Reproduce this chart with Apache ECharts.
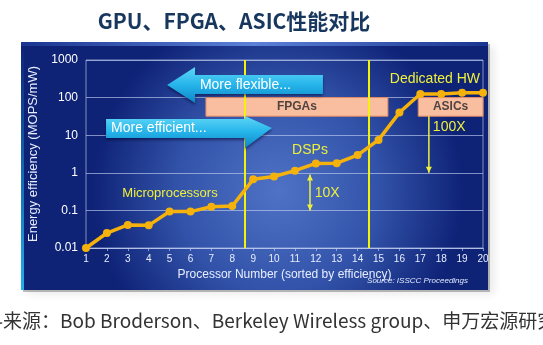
<!DOCTYPE html>
<html><head><meta charset="utf-8">
<script src="https://cdn.jsdelivr.net/npm/echarts@6/dist/echarts.min.js"></script>
<style>html,body{margin:0;padding:0;background:#fff}#c{width:543px;height:345px}</style>
</head><body><div id="c"></div>
<script>
// ---- data ----
const processorNumbers = [1,2,3,4,5,6,7,8,9,10,11,12,13,14,15,16,17,18,19,20];
const efficiency = [0.01,0.025,0.041,0.04,0.093,0.093,0.125,0.13,0.67,0.8,1.14,1.78,1.8,2.96,7.5,40,125,125,135,135];
const yTicks = [0.01,0.1,1,10,100,1000];
const dividers = [8.6, 14.55];
const fpgaBox = [[6.74, 32], [15.45, 100]];
const asicBox = [[16.9, 32], [20.2, 100]];

const chart = echarts.init(document.getElementById('c'), null, {renderer:'canvas'});
const F = '"Liberation Sans", Arial, sans-serif';
const CJK = '"Noto Sans CJK SC", sans-serif';
const gridColor = 'rgba(190,205,240,0.65)';

chart.setOption({
  animation:false,
  title:{text:'GPU、FPGA、ASIC性能对比', left:229, top:6, textAlign:'center',
    textStyle:{fontFamily:CJK, fontWeight:'bold', fontSize:21, color:'#17375E'}},
  grid:{left:86, right:60, top:60, bottom:97, show:true, borderColor:gridColor, borderWidth:1, backgroundColor:'transparent'},
  xAxis:{type:'value', min:1, max:20, interval:1,
    name:'Processor Number (sorted by efficiency)', nameLocation:'middle', nameGap:20,
    nameTextStyle:{color:'#e8eeff', fontSize:12, fontFamily:F},
    axisLine:{lineStyle:{color:gridColor}},
    axisTick:{show:true, inside:false, length:3, lineStyle:{color:gridColor}},
    axisLabel:{color:'#e8eeff', fontSize:10, fontFamily:F, margin:6},
    splitLine:{show:false}},
  yAxis:{type:'log', logBase:10, min:0.01, max:1000,
    name:'Energy efficiency (MOPS/mW)', nameLocation:'middle', nameGap:46,
    nameTextStyle:{color:'#e8eeff', fontSize:13, fontFamily:F},
    axisLine:{show:false}, axisTick:{show:false},
    axisLabel:{color:'#ffffff', fontSize:12, fontFamily:F, margin:8,
      formatter:v=>{const t=yTicks.find(k=>Math.abs(k-v)/k<1e-6);return t===undefined?'':String(t);}},
    splitLine:{lineStyle:{color:gridColor, width:1}}},
  series:[{
    type:'line', data:processorNumbers.map((x,i)=>[x,efficiency[i]]),
    symbol:'circle', symbolSize:8, clip:false,
    lineStyle:{color:'#F5B20C', width:3.5}, itemStyle:{color:'#F5B20C'},
    z:5,
    markLine:{silent:true, symbol:'none', label:{show:false},
      lineStyle:{color:'#F2F20A', width:2, type:'solid'},
      data:dividers.map(d=>({xAxis:d})), z:3},
    markArea:{silent:true,
      itemStyle:{color:'#F9BEA0', borderColor:'#E08860', borderWidth:1},
      label:{show:true, position:'inside', color:'#4f4440', fontWeight:'bold', fontSize:12, fontFamily:F},
      data:[
        [{name:'FPGAs', coord:fpgaBox[0]},{coord:fpgaBox[1]}],
        [{name:'ASICs', coord:asicBox[0]},{coord:asicBox[1]}]
      ]}
  }]
});

const P = (x,y)=>chart.convertToPixel({gridIndex:0},[x,y]);
function arrowPoly(tip, headBase, end, yc, bodyTop, bodyBot, headTop, headBot){
  const t=P(tip,yc), hb=P(headBase,yc), e=P(end,yc);
  const bt=P(tip,bodyTop)[1], bb=P(tip,bodyBot)[1], ht=P(tip,headTop)[1], hbt=P(tip,headBot)[1];
  return [[t[0],t[1]],[hb[0],ht],[hb[0],bt],[e[0],bt],[e[0],bb],[hb[0],bb],[hb[0],hbt]];
}
const cyanGrad = new echarts.graphic.LinearGradient(0,0,0,1,[{offset:0,color:'#5fd6f7'},{offset:0.5,color:'#25b4ea'},{offset:1,color:'#0d86c8'}]);
const yel = '#EEF03A';
function txt(x,y,s,opt){const p=P(x,y);return {type:'text',x:p[0],y:p[1],z:20,style:Object.assign({text:s,fill:yel,fontSize:14,fontFamily:F,align:'center',verticalAlign:'middle'},opt||{})};}
function vline(x,y1,y2,arrows){
  const a=P(x,y1),b=P(x,y2);const els=[{type:'line',z:20,shape:{x1:a[0],y1:a[1],x2:b[0],y2:b[1]},style:{stroke:yel,lineWidth:1.5}}];
  arrows.forEach(yy=>{const q=P(x,yy);const dir=(yy===y1? (a[1]<b[1]?-1:1):(b[1]<a[1]?-1:1));
    els.push({type:'polygon',z:20,shape:{points:[[q[0],q[1]],[q[0]-3,q[1]-dir*6],[q[0]+3,q[1]-dir*6]]},style:{fill:yel}});});
  return els;
}
const g = [];
// panel background (layout decoration)
g.push({type:'rect',z:-10,shape:{x:23,y:44,width:467,height:248},style:{fill:'rgba(0,0,0,0.25)',shadowBlur:8,shadowColor:'rgba(0,0,0,0.35)',shadowOffsetX:4,shadowOffsetY:2}});
g.push({type:'rect',z:-9,shape:{x:21,y:42,width:467,height:248},
  style:{fill:new echarts.graphic.RadialGradient(0.55,0.6,0.75,[{offset:0,color:'#4f72c6'},{offset:0.55,color:'#3152a8'},{offset:1,color:'#0e2276'}])}});
g.push({type:'rect',z:-8,shape:{x:21,y:42,width:467,height:4},style:{fill:new echarts.graphic.LinearGradient(0,0,1,0,[{offset:0,color:'#1a3590'},{offset:0.5,color:'#5c80d8'},{offset:1,color:'#1a3590'}])}});
g.push({type:'rect',z:-8,shape:{x:21,y:42,width:3,height:248},style:{fill:new echarts.graphic.LinearGradient(0,0,0,1,[{offset:0,color:'rgba(30,160,230,0)'},{offset:1,color:'#23b0ea'}])}});
// arrows
g.push({type:'polygon',z:15,shape:{points:arrowPoly(4.88,6.22,12.34,216,399,125,651,72)},style:{fill:cyanGrad,shadowBlur:3,shadowColor:'rgba(0,0,40,0.5)',shadowOffsetY:2}});
g.push({type:'polygon',z:15,shape:{points:arrowPoly(9.9,8.61,1.96,15.5,27,8.4,32.4,4.57)},style:{fill:cyanGrad,shadowBlur:3,shadowColor:'rgba(0,0,40,0.5)',shadowOffsetY:2}});
g.push(txt(6.45,216,'More flexible...',{fill:'#ffffff',align:'left'}));
g.push(txt(2.2,15.5,'More efficient...',{fill:'#ffffff',align:'left'}));
// labels
g.push(txt(17.7,312,'Dedicated HW'));
g.push(txt(17.6,16.5,'100X',{align:'left'}));
g.push(txt(11.72,4.04,'DSPs'));
g.push(txt(11.95,0.29,'10X',{align:'left'}));
g.push(txt(5.02,0.28,'Microprocessors',{fontSize:13}));
vline(17.41,32,1,[1]).forEach(e=>g.push(e));
vline(11.72,0.9,0.1,[0.9,0.1]).forEach(e=>g.push(e));
// source note
g.push({type:'text',x:468,y:281,z:20,style:{text:'Source: ISSCC Proceedings',fill:'#e0e8ff',fontSize:8,fontStyle:'italic',fontFamily:F,align:'right',verticalAlign:'middle'}});
g.push({type:'text',x:-16,y:321,z:20,style:{text:'料来源：Bob Broderson、Berkeley Wireless group、申万宏源研究',fill:'#333333',fontSize:19,fontFamily:CJK,align:'left',verticalAlign:'middle'}});
chart.setOption({graphic:g});
</script></body></html>
